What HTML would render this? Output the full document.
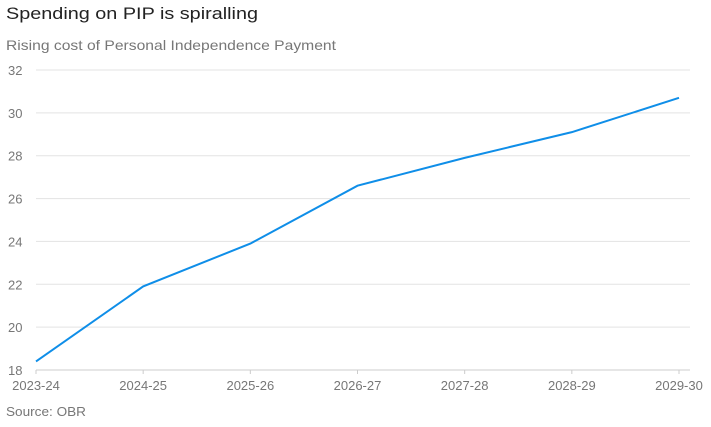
<!DOCTYPE html>
<html><head><meta charset="utf-8"><style>
body{margin:0;background:#fff;font-family:"Liberation Sans",sans-serif;}
svg{display:block}
</style></head><body>
<svg width="711" height="427">
<text x="6" y="19" font-size="17" fill="#222" textLength="252" lengthAdjust="spacingAndGlyphs">Spending on PIP is spiralling</text>
<text x="6" y="50" font-size="14" fill="#777" textLength="330" lengthAdjust="spacingAndGlyphs">Rising cost of Personal Independence Payment</text>
<g id="grid"></g><g id="xaxis"></g>
<path id="line" fill="none" stroke="#0f8ee8" stroke-width="2"/>
<text x="6" y="416" font-size="13" fill="#777" textLength="80" lengthAdjust="spacingAndGlyphs">Source: OBR</text>
</svg>
<script>
const categories=["2023-24","2024-25","2025-26","2026-27","2027-28","2028-29","2029-30"];
const values=[18.4,21.9,23.9,26.6,27.9,29.1,30.7];
const yTicks=[18,20,22,24,26,28,30,32];
const ns="http://www.w3.org/2000/svg";
const x0=36,x1=679,yMin=18,yMax=32,py0=370,py1=70;
const xs=i=>x0+(x1-x0)*i/(categories.length-1);
const ys=v=>py0-(v-yMin)/(yMax-yMin)*(py0-py1);
const grid=document.getElementById('grid'),xa=document.getElementById('xaxis');
function mk(t,a,p){const e=document.createElementNS(ns,t);for(const k in a)e.setAttribute(k,a[k]);p.appendChild(e);return e;}
yTicks.forEach(v=>{
 const l=mk('line',{x1:x0,x2:690,y1:ys(v),y2:ys(v),stroke:v===yMin?'#ccc':'#e3e3e3','stroke-width':1},grid);
 
 
 const t=mk('text',{x:8,y:ys(v)+5,'font-size':13,fill:'#777'},grid);t.textContent=v;
 
 
});
categories.forEach((c,i)=>{
 const l=mk('line',{x1:xs(i),x2:xs(i),y1:py0,y2:py0+4,stroke:'#ccc'},xa);
 
 
 const t=mk('text',{x:xs(i),y:py0+20,'font-size':13,fill:'#777','text-anchor':'middle'},xa);t.textContent=c;
 
 
});
document.getElementById('line').setAttribute('d',values.map((v,i)=>(i?'L':'M')+xs(i)+','+ys(v)).join(''));
</script>
</body></html>
